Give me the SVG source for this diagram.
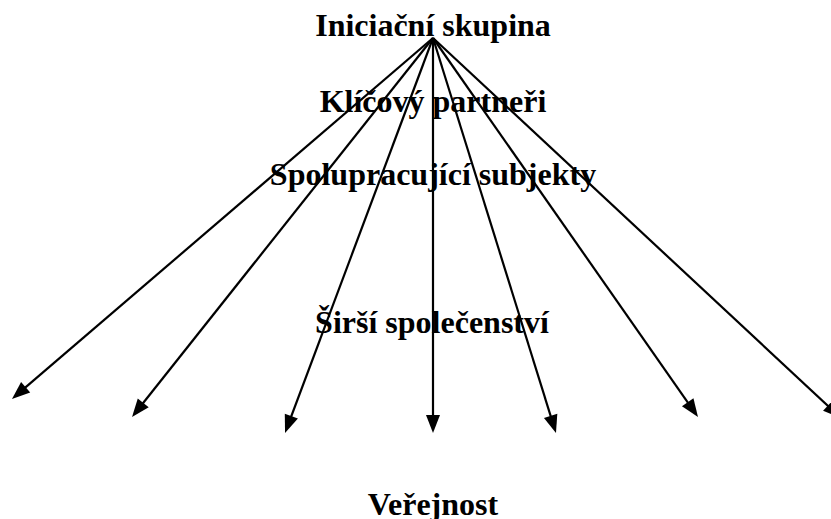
<svg xmlns="http://www.w3.org/2000/svg" width="831" height="519" viewBox="0 0 831 519">
<style>
.lbl{font-family:"Liberation Serif","Times New Roman",serif;font-weight:bold;font-size:32px;fill:#000;text-anchor:middle}
.arr{stroke:#000;stroke-width:2.2;fill:none;marker-end:url(#ah)}
</style>
<defs>
<marker id="ah" markerUnits="userSpaceOnUse" markerWidth="18" markerHeight="14" refX="11" refY="7" orient="auto" overflow="visible">
<path d="M0,0 L18,7 L0,14 z" fill="#000"/>
</marker>
</defs>
<rect width="831" height="519" fill="#fff"/>
<g id="connectors">
<line class="arr" x1="433" y1="38" x2="17.3" y2="394.4"/>
<line class="arr" x1="433" y1="38" x2="136.4" y2="411.5"/>
<line class="arr" x1="433" y1="38" x2="287.5" y2="426.4"/>
<line class="arr" x1="433" y1="38" x2="433" y2="426"/>
<line class="arr" x1="433" y1="38" x2="553.9" y2="426.3"/>
<line class="arr" x1="433" y1="38" x2="694" y2="411.3"/>
<line class="arr" x1="433" y1="38" x2="835.9" y2="413.2"/>
</g>
<g id="iniciacni"><text class="lbl" x="433" y="36">Iniciační skupina</text></g>
<g id="klicovy"><text class="lbl" x="433" y="112">Klíčový partneři</text></g>
<g id="spolupracujici"><text class="lbl" x="433" y="185">Spolupracující subjekty</text></g>
<g id="sirsi"><text class="lbl" x="432" y="333">Širší společenství</text></g>
<g id="verejnost"><text class="lbl" x="433" y="515">Veřejnost</text></g>
</svg>
